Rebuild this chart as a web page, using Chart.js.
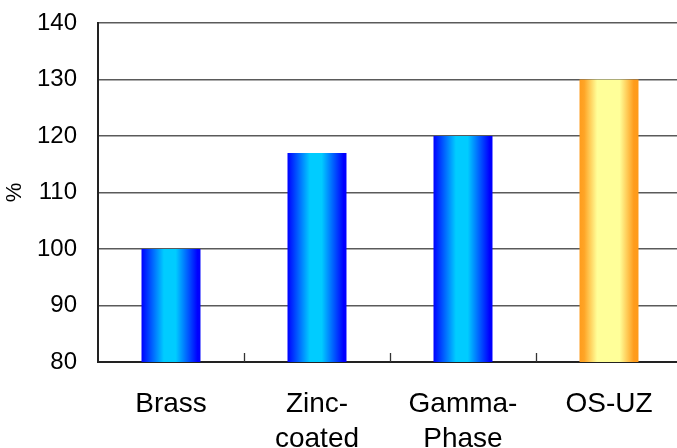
<!DOCTYPE html>
<html>
<head>
<meta charset="utf-8">
<script src="https://cdn.jsdelivr.net/npm/chart.js@4"></script>
<style>
  html, body { margin: 0; padding: 0; background: #fff; overflow: hidden; }
  #wrap { width: 690px; height: 448px; }
</style>
</head>
<body>
<div id="wrap"><canvas id="chart" width="690" height="448"></canvas></div>
<script>
// data
const categories = [["Brass"], ["Zinc-", "coated"], ["Gamma-", "Phase"], ["OS-UZ"]];
const values = [100, 117, 120, 130];
const barKinds = ["blue", "blue", "blue", "orange"];
const yTicks = [80, 90, 100, 110, 120, 130, 140];

const gradStops = {
  blue: [[0, "#0000ff"], [0.38, "#00ccff"], [0.58, "#00ccff"], [0.95, "#0000ff"], [1, "#0000ff"]],
  orange: [[0, "#ff9c1c"], [0.08, "#ffa526"], [0.3, "#ffff99"], [0.68, "#ffff99"], [0.92, "#ff9c1c"], [1, "#ff9a18"]]
};

function barFill(context) {
  const chart = context.chart;
  const kind = barKinds[context.dataIndex];
  const xs = chart.scales.x;
  if (!chart.chartArea || !xs || xs.width === undefined) return gradStops[kind][1][1];
  const center = xs.getPixelForValue(context.dataIndex);
  const half = (xs.width / categories.length) * 0.404 / 2;
  const g = chart.ctx.createLinearGradient(center - half, 0, center + half, 0);
  gradStops[kind].forEach(s => g.addColorStop(s[0], s[1]));
  return g;
}

// short separators between categories, pointing up from the x axis
const categoryTicks = {
  id: "categoryTicks",
  afterDatasetsDraw(chart) {
    const xs = chart.scales.x;
    const ctx = chart.ctx;
    const bottom = chart.chartArea.bottom;
    ctx.save();
    ctx.strokeStyle = "#333";
    ctx.lineWidth = 1.3;
    for (let i = 1; i < categories.length; i++) {
      const x = Math.round(xs.getPixelForValue(i - 0.5)) + 0.5;
      ctx.beginPath();
      ctx.moveTo(x, bottom);
      ctx.lineTo(x, bottom - 9);
      ctx.stroke();
    }
    ctx.restore();
  }
};

new Chart(document.getElementById("chart"), {
  type: "bar",
  data: {
    labels: categories,
    datasets: [{
      data: values,
      backgroundColor: barFill,
      borderWidth: 0,
      barPercentage: 0.404,
      categoryPercentage: 1
    }]
  },
  options: {
    responsive: false,
    animation: false,
    layout: { padding: { top: 23, right: 8, left: 0, bottom: 0 } },
    plugins: { legend: { display: false }, tooltip: { enabled: false } },
    scales: {
      x: {
        afterFit(scale) { scale.height = 86; },
        grid: { display: false, drawTicks: false },
        border: { display: true, color: "#222", width: 2 },
        ticks: {
          color: "#000",
          font: { family: "Liberation Sans, Arial, sans-serif", size: 28, lineHeight: 1.25 },
          padding: 25,
          maxRotation: 0,
          autoSkip: false
        }
      },
      y: {
        min: 80,
        max: 140,
        afterFit(scale) {
          scale.width = 98;
          scale.paddingTop = 0;
          scale.paddingBottom = 0;
        },
        afterBuildTicks(scale) { scale.ticks = yTicks.map(v => ({ value: v })); },
        grid: { color: "#5a5a5a", lineWidth: 1.6, drawTicks: false },
        border: { display: true, color: "#222", width: 2 },
        ticks: {
          color: "#000",
          font: { family: "Liberation Sans, Arial, sans-serif", size: 24 },
          padding: 21
        },
        title: {
          display: true,
          text: "%",
          color: "#000",
          font: { family: "Liberation Sans, Arial, sans-serif", size: 22 },
          padding: { top: 2, bottom: 0 }
        }
      }
    }
  },
  plugins: [categoryTicks]
});
</script>
</body>
</html>
